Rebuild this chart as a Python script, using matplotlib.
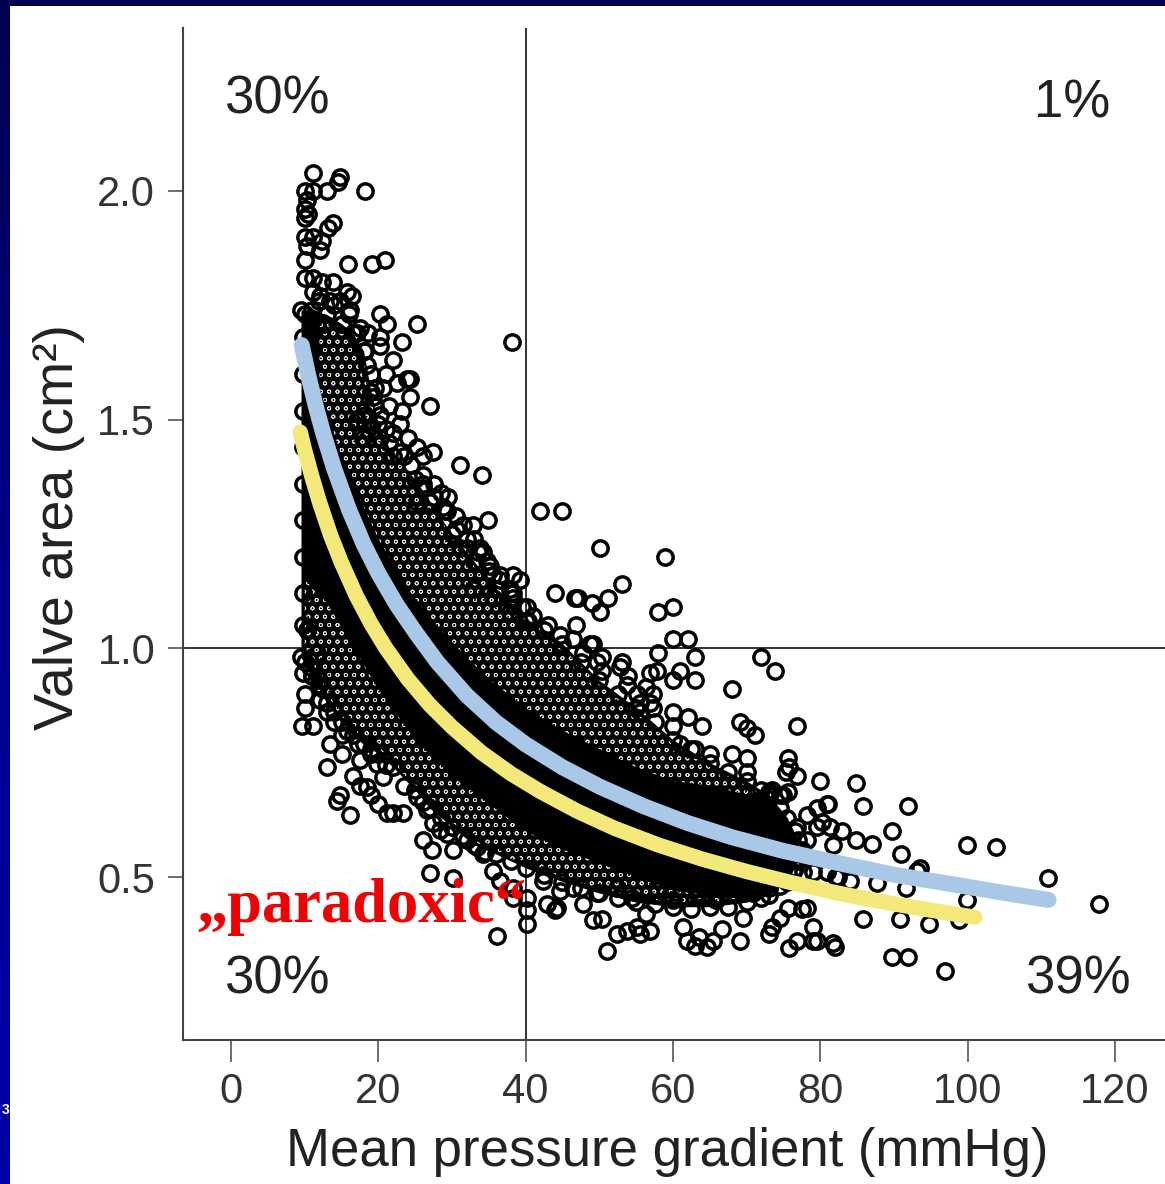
import matplotlib
matplotlib.use("Agg")
import matplotlib.pyplot as plt
import numpy as np
from matplotlib.colors import LinearSegmentedColormap

plt.rcParams['font.family'] = ['Liberation Sans', 'DejaVu Sans']
plt.rcParams['hatch.linewidth'] = 0.6

# ---------------- data ----------------
x_ticks = [0, 20, 40, 60, 80, 100, 120]
x_tick_labels = ["0", "20", "40", "60", "80", "100", "120"]
y_ticks = [0.5, 1.0, 1.5, 2.0]
y_tick_labels = ["0.5", "1.0", "1.5", "2.0"]

x_cut = 40      # mmHg
y_cut = 1.0     # cm2

quadrant_labels = ["30%", "1%", "30%", "39%"]
quadrant_x = [-1.0, 109.0, -1.0, 107.8]
quadrant_y = [2.17, 2.16, 0.246, 0.246]

# dense (fully overlapping) part of the cloud: per gradient, lower / upper edge
core_gradient = [9.5, 11, 13, 15, 16.5, 18, 19, 20, 22, 25, 27, 30, 33, 36, 40, 45,
                 50, 55, 60, 65, 70, 73, 75.5, 77]
core_high = [1.74, 1.74, 1.73, 1.71, 1.69, 1.65, 1.56, 1.49, 1.42, 1.37, 1.32, 1.25,
             1.19, 1.13, 1.06, 1.01, 0.93, 0.87, 0.80, 0.75, 0.71, 0.68, 0.63, 0.58]
core_low = [0.98, 0.94, 0.88, 0.84, 0.81, 0.79, 0.78, 0.77, 0.74, 0.69, 0.65, 0.61,
            0.57, 0.55, 0.52, 0.49, 0.465, 0.445, 0.435, 0.435, 0.445, 0.46, 0.49, 0.535]

# parts of the dense band where the ring holes still show (above blue / below yellow)
open_upper_gradient = [12, 15, 18, 20, 24, 28, 32, 36, 40, 45, 50, 55, 60, 65, 70, 74]
open_upper_low = [1.57, 1.42, 1.31, 1.24, 1.13, 1.05, 0.98, 0.92, 0.87, 0.82, 0.78, 0.74,
                  0.71, 0.70, 0.68, 0.66]
open_upper_high = [1.72, 1.70, 1.63, 1.47, 1.38, 1.29, 1.20, 1.12, 1.05, 1.00, 0.92, 0.86,
                   0.79, 0.74, 0.70, 0.665]
open_lower_gradient = [10, 13, 16, 20, 25, 30, 35, 40, 45, 50, 55, 60, 65, 70, 74]
open_lower_low = [0.99, 0.89, 0.83, 0.78, 0.70, 0.62, 0.555, 0.53, 0.50, 0.475, 0.455,
                  0.445, 0.445, 0.455, 0.47]
open_lower_high = [1.15, 1.10, 1.02, 0.91, 0.80, 0.72, 0.66, 0.60, 0.56, 0.53, 0.50, 0.47,
                   0.46, 0.455, 0.47]

# individually visible patients (gradient mmHg, valve area cm2)
sparse_points = [
    (11.1, 2.04), (14.8, 2.03), (14.5, 2.02), (18.2, 2.00), (10.0, 2.00), (11.1, 2.00),
    (13.0, 2.00), (10.3, 1.98), (10.0, 1.96), (10.5, 1.95), (10.0, 1.94), (13.8, 1.93),
    (13.2, 1.92), (10.0, 1.90), (11.1, 1.90), (12.3, 1.89), (10.3, 1.88), (12.1, 1.87),
    (10.0, 1.85), (15.9, 1.84), (19.1, 1.84), (20.9, 1.85), (10.0, 1.81), (11.1, 1.81),
    (12.3, 1.80), (13.8, 1.80), (15.7, 1.78), (16.4, 1.77), (11.1, 1.78), (12.1, 1.77),
    (13.4, 1.76), (14.8, 1.76), (16.1, 1.74), (20.2, 1.73), (21.2, 1.71), (25.2, 1.71),
    (10.0, 1.73), (11.1, 1.72), (12.5, 1.71), (17.1, 1.69), (18.6, 1.69), (20.2, 1.68),
    (23.2, 1.67), (38.1, 1.67), (22.0, 1.63), (23.9, 1.59), (22.5, 1.58), (20.6, 1.57),
    (19.3, 1.55), (24.3, 1.55), (27.0, 1.53), (17.1, 1.50), (18.2, 1.51), (20.2, 1.51),
    (18.2, 1.65), (20.2, 1.66), (24.3, 1.59), (23.2, 1.52), (20.2, 1.46), (17.9, 1.46),
    (25.2, 1.44), (26.1, 1.42), (27.4, 1.43), (31.1, 1.40), (34.1, 1.38), (26.1, 1.35),
    (25.2, 1.32), (28.8, 1.31), (29.3, 1.30), (32.8, 1.27), (34.9, 1.28), (31.1, 1.22),
    (33.8, 1.22), (34.2, 1.21), (35.1, 1.18), (35.5, 1.16), (38.3, 1.16), (39.2, 1.15),
    (37.9, 1.13), (38.3, 1.11), (40.2, 1.09), (40.3, 1.06), (41.9, 1.30), (45.0, 1.30),
    (44.0, 1.12), (46.7, 1.11), (32.0, 1.22), (34.7, 1.19), (36.5, 1.16), (38.3, 1.12),
    (32.8, 1.13), (35.5, 1.11), (37.9, 1.08), (19.0, 1.60), (21.0, 1.60), (19.5, 1.57),
    (21.5, 1.53), (23.0, 1.49), (22.0, 1.47), (24.0, 1.46), (23.5, 1.42), (26.0, 1.38),
    (27.5, 1.36), (28.5, 1.34), (29.5, 1.33), (30.5, 1.29), (31.5, 1.27), (33.0, 1.24),
    (21.5, 1.45), (23.0, 1.43), (24.5, 1.40), (26.0, 1.36), (27.5, 1.33), (29.0, 1.30),
    (30.5, 1.26), (32.0, 1.24), (33.5, 1.21), (35.0, 1.17), (36.5, 1.15), (38.0, 1.12),
    (39.5, 1.09), (41.0, 1.07),
    (50.1, 1.22), (58.9, 1.20), (53.1, 1.14), (47.1, 1.11), (49.0, 1.10), (51.2, 1.11),
    (50.1, 1.08), (57.9, 1.08), (60.0, 1.09), (46.9, 1.05), (60.0, 1.02), (62.0, 1.02),
    (57.9, 0.99), (63.0, 0.98), (49.1, 1.01), (50.3, 0.98), (50.3, 0.95), (53.1, 0.97),
    (53.9, 0.94), (72.0, 0.98), (73.8, 0.95), (56.9, 0.945), (57.8, 0.95), (60.0, 0.93),
    (60.9, 0.95), (63.0, 0.93), (68.0, 0.91), (57.3, 0.90), (56.9, 0.88), (55.5, 0.86),
    (60.0, 0.86), (62.0, 0.85), (64.0, 0.83), (69.1, 0.84), (70.0, 0.825), (71.1, 0.81),
    (76.9, 0.83), (60.0, 0.83), (60.9, 0.79), (63.0, 0.78), (65.0, 0.77), (68.0, 0.77),
    (70.0, 0.76), (70.0, 0.73), (75.6, 0.76), (75.8, 0.74), (76.9, 0.72), (79.9, 0.71),
    (80.9, 0.66), (73.1, 0.685), (74.5, 0.68), (75.6, 0.685), (43.0, 1.05), (44.6, 1.03),
    (46.4, 1.02), (48.7, 1.01), (47.8, 0.99), (49.7, 0.97), (52.8, 0.96), (53.7, 0.92),
    (55.1, 0.90), (56.4, 0.915), (55.5, 0.88), (57.3, 0.87),
    (75.4, 0.73), (73.5, 0.69), (74.9, 0.68), (73.1, 0.67), (79.5, 0.65), (80.3, 0.62),
    (81.3, 0.61), (81.7, 0.57), (78.2, 0.635), (76.8, 0.61), (78.2, 0.58), (76.3, 0.51),
    (77.6, 0.51), (79.0, 0.51), (80.9, 0.51), (82.2, 0.50), (84.9, 0.705), (85.8, 0.656),
    (91.9, 0.656), (89.8, 0.60), (91.0, 0.55), (99.9, 0.57), (103.9, 0.565), (81.0, 0.66),
    (79.6, 0.61), (83.0, 0.60), (84.9, 0.58), (87.0, 0.573), (93.5, 0.52), (93.1, 0.514),
    (87.7, 0.486), (91.7, 0.475), (99.9, 0.449), (78.2, 0.433), (85.8, 0.409), (90.8, 0.409),
    (94.8, 0.398), (98.9, 0.405), (79.0, 0.39), (76.8, 0.361), (79.0, 0.361), (82.0, 0.346),
    (75.8, 0.344), (89.8, 0.324), (91.9, 0.324), (82.4, 0.499), (84.0, 0.492),
    (110.9, 0.497), (117.9, 0.442), (96.9, 0.295),
    (42.9, 0.442), (44.0, 0.427), (47.8, 0.442), (49.1, 0.405), (50.3, 0.409), (51.0, 0.339),
    (52.4, 0.376), (53.7, 0.383), (55.1, 0.39), (56.4, 0.42), (61.9, 0.361), (63.0, 0.35),
    (64.6, 0.346), (65.4, 0.361), (66.6, 0.387), (69.1, 0.361), (69.5, 0.411), (73.1, 0.376),
    (73.5, 0.39), (74.5, 0.411), (75.6, 0.433), (77.5, 0.431), (79.5, 0.361), (81.7, 0.355),
    (61.3, 0.39), (63.6, 0.368), (55.5, 0.376), (56.9, 0.383), (42.3, 0.492), (44.6, 0.47),
    (46.4, 0.477), (49.7, 0.464), (52.4, 0.477), (54.5, 0.455), (57.8, 0.477), (60.0, 0.449),
    (63.2, 0.464), (65.9, 0.449), (68.1, 0.477), (70.8, 0.464), (73.1, 0.477),
    (10.3, 1.04), (9.8, 0.945), (9.6, 0.83), (11.1, 0.83), (12.1, 0.886), (12.5, 0.91),
    (10.7, 0.96), (11.7, 0.99), (13.0, 0.74), (14.4, 0.667), (16.1, 0.635), (15.1, 0.81),
    (17.5, 0.755), (18.5, 0.696), (19.8, 0.748), (20.6, 0.718), (21.2, 0.641), (22.0, 0.639),
    (23.3, 0.639), (25.2, 0.674), (26.6, 0.646), (27.4, 0.617), (28.4, 0.602), (26.1, 0.58),
    (27.3, 0.558), (29.3, 0.595), (30.1, 0.558), (32.0, 0.58), (33.4, 0.565), (27.0, 0.508),
    (30.1, 0.497), (34.2, 0.551), (35.5, 0.514), (36.5, 0.492), (38.3, 0.477), (38.3, 0.455),
    (40.2, 0.455), (44.2, 0.433), (40.2, 0.427), (40.2, 0.398), (36.1, 0.372),
    (10.0, 0.90), (10.0, 0.87), (11.0, 0.94), (12.0, 0.93), (13.0, 0.86), (14.0, 0.84),
    (13.5, 0.79), (15.0, 0.77), (16.5, 0.72), (17.5, 0.70), (19.0, 0.68), (20.0, 0.66),
    (14.8, 0.68),
    # patients along the edge of the dense band
    (12.0, 1.76), (14.0, 1.75), (16.0, 1.73), (17.5, 1.70), (18.5, 1.62), (19.5, 1.53),
    (21.0, 1.48), (42.5, 1.04), (47.5, 0.97), (52.5, 0.90), (57.5, 0.84), (62.5, 0.78),
    (67.5, 0.73), (72.0, 0.69), (74.5, 0.65), (76.5, 0.60),
    (10.0, 0.97), (12.0, 0.92), (14.0, 0.86), (15.8, 0.82), (17.2, 0.79), (19.0, 0.77),
    (21.0, 0.745), (23.5, 0.70), (26.0, 0.665), (28.5, 0.63), (31.5, 0.59), (34.5, 0.555),
    (38.0, 0.535), (42.5, 0.505), (47.5, 0.475), (52.5, 0.455), (57.5, 0.44), (62.5, 0.43),
    (67.5, 0.435), (72.0, 0.455), (74.5, 0.48), (76.5, 0.52),
    (9.8, 1.05), (9.8, 1.12), (9.8, 1.20), (9.8, 1.28), (9.8, 1.36), (9.8, 1.44),
    (9.8, 1.52), (9.8, 1.60), (9.8, 1.68), (77.5, 0.56),
]

# fitted curves
blue_gradient = [9.6, 10.5, 11.5, 12.5, 14, 16, 18, 20, 22.5, 25, 28, 32, 36, 40, 45, 50,
                 56, 62, 68, 75, 82, 90, 98, 105, 111]
blue_area = [1.663, 1.596, 1.530, 1.471, 1.393, 1.304, 1.228, 1.164, 1.095, 1.036, 0.970,
             0.897, 0.838, 0.790, 0.740, 0.698, 0.655, 0.618, 0.587, 0.557, 0.532, 0.505,
             0.484, 0.465, 0.450]
yellow_gradient = [9.4, 10, 11, 12, 13.5, 15, 17, 19, 21, 24, 27, 30, 34, 38, 42, 47, 52,
                   58, 64, 70, 76, 82, 88, 94, 101]
yellow_area = [1.473, 1.433, 1.374, 1.320, 1.248, 1.187, 1.115, 1.054, 1.001, 0.933, 0.876,
               0.828, 0.772, 0.726, 0.687, 0.644, 0.607, 0.570, 0.539, 0.512, 0.488, 0.466,
               0.447, 0.430, 0.412]

paradox_text = "\u201eparadoxic\u201c"
paradox_x, paradox_y = -4.7, 0.402

# ---------------- figure ----------------
W, H = 1165, 1184
fig = plt.figure(figsize=(W / 100, H / 100), dpi=100, facecolor="white")

# slide frame (decoration)
frame_ax = fig.add_axes([0, 0, 10 / W, 1])
cmap = LinearSegmentedColormap.from_list("frame", ["#000050", "#00008a", "#0000a8"])
frame_ax.imshow(np.linspace(0, 1, 256).reshape(-1, 1), aspect="auto", cmap=cmap)
frame_ax.set_axis_off()
top_ax = fig.add_axes([0, 1 - 6 / H, 1, 6 / H])
top_ax.set_facecolor("#000050")
top_ax.set_xticks([]); top_ax.set_yticks([])
for s in top_ax.spines.values():
    s.set_visible(False)
fig.text(1.5 / W, 1 - 1110 / H, "3", color="white", fontsize=10, fontweight="bold",
         ha="left", va="center")

ax = fig.add_axes([183 / W, 1 - 1040 / H, 1 - 183 / W, (1040 - 28) / H])
ax.set_xlim(-6.52, 126.8)
ax.set_ylim(0.1436, 2.3564)
ax.spines["top"].set_visible(False)
ax.spines["right"].set_visible(False)
for s in ("left", "bottom"):
    ax.spines[s].set_color("#444444")
    ax.spines[s].set_linewidth(1.5)

ax.axvline(x_cut, color="#111111", lw=1.2, zorder=1)
ax.axhline(y_cut, color="#111111", lw=1.2, zorder=1)

ax.fill_between(core_gradient, core_low, core_high, color="black", lw=0, zorder=2)
for g, lo, hi in ((open_upper_gradient, open_upper_low, open_upper_high),
                  (open_lower_gradient, open_lower_low, open_lower_high)):
    ax.fill_between(g, lo, hi, facecolor="none", edgecolor="#dddddd", hatch="oo",
                    lw=0, zorder=2.5)
ring = dict(ls="none", marker="o", mfc="none", mec="black", ms=11, mew=2.5, zorder=3)
ax.plot(core_gradient, core_low, **ring)
ax.plot(core_gradient, core_high, **ring)
sx = [p[0] for p in sparse_points]
sy = [p[1] for p in sparse_points]
ax.plot(sx, sy, **ring)

ax.plot(yellow_gradient, yellow_area, color="#f3e97a", lw=11,
        solid_capstyle="round", zorder=5)
ax.plot(blue_gradient, blue_area, color="#a9c8e8", lw=11.5,
        solid_capstyle="round", zorder=6)

ax.set_xticks(x_ticks)
ax.set_xticklabels(x_tick_labels)
ax.set_yticks(y_ticks)
ax.set_yticklabels(y_tick_labels)
ax.tick_params(axis="x", direction="out", length=16, width=1.2, color="#555555",
               labelsize=30, labelcolor="#333333", pad=7)
ax.tick_params(axis="y", direction="out", length=11, width=1.2, color="#555555",
               labelsize=30, labelcolor="#333333", pad=9)

ax.set_xlabel("Mean pressure gradient (mmHg)", fontsize=38, color="#222222")
ax.xaxis.set_label_coords(0.493, -0.086)
ax.set_ylabel("Valve area (cm\u00b2)", fontsize=40, color="#222222")
ax.yaxis.set_label_coords(-0.100, 0.507)

for t, qx, qy in zip(quadrant_labels, quadrant_x, quadrant_y):
    ax.text(qx, qy, t, fontsize=38, color="#222222", ha="left", va="baseline", zorder=7)

ax.text(paradox_x, paradox_y, paradox_text, fontsize=45, color="#f00000",
        family=["Liberation Serif", "DejaVu Serif"], fontweight="bold",
        ha="left", va="baseline", zorder=8)

fig.savefig("out.png", dpi=100, facecolor=fig.get_facecolor())
